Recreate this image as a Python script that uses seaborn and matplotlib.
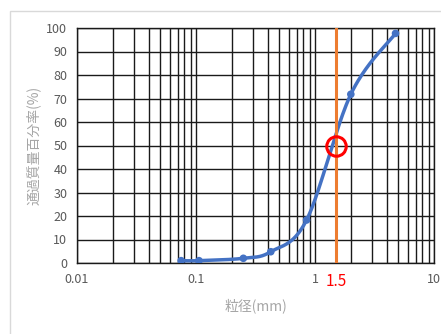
import numpy as np
import matplotlib
matplotlib.use("Agg")
import matplotlib.pyplot as plt
from matplotlib.patches import Rectangle
from matplotlib.ticker import FixedLocator, LogLocator, NullFormatter
import seaborn as sns
import pandas as pd

# Sieve data (particle size in mm vs passing percentage)
grain_size = [0.075, 0.106, 0.25, 0.425, 0.85, 2.0, 4.75]
passing = [1.0, 1.0, 2.0, 4.8, 18.3, 71.8, 97.7]

# Highlighted point
d_mark = 1.5
p_mark = 50

x_ticks = [0.01, 0.1, 1, d_mark, 10]
x_tick_labels = ["0.01", "0.1", "1", "1.5", "10"]
y_ticks = list(range(0, 101, 10))

sns.set_theme(style="white")
plt.rcParams["font.family"] = ["Noto Sans CJK JP", "DejaVu Sans"]

df = pd.DataFrame({"size": grain_size, "passing": passing})


def smooth_curve(x, y, n=40):
    """Catmull-Rom smoothing in log-x space (Excel-like smoothed line)"""
    lx = np.log10(x)
    pts = np.column_stack([lx, y])
    pts = np.vstack([pts[0], pts, pts[-1]])
    out = []
    for i in range(1, len(pts) - 2):
        p0, p1, p2, p3 = pts[i - 1], pts[i], pts[i + 1], pts[i + 2]
        t = np.linspace(0, 1, n)[:, None]
        seg = 0.5 * ((2 * p1) + (-p0 + p2) * t
                     + (2 * p0 - 5 * p1 + 4 * p2 - p3) * t ** 2
                     + (-p0 + 3 * p1 - 3 * p2 + p3) * t ** 3)
        out.append(seg)
    out = np.vstack(out)
    return 10 ** out[:, 0], out[:, 1]


fig = plt.figure(figsize=(4.41, 3.34), dpi=100)
fig.patches.append(Rectangle((10 / 441, -0.1), 1.2, 1 - 11 / 334 + 0.1,
                             transform=fig.transFigure, fill=False,
                             edgecolor="#d9d9d9", linewidth=1))
ax = fig.add_axes([77 / 441, 1 - 263 / 334, 357 / 441, 235 / 334])

ax.set_xscale("log")
ax.set_xlim(0.01, 10)
ax.set_ylim(0, 100)

# Grid
ax.xaxis.set_major_locator(FixedLocator(x_ticks))
ax.xaxis.set_minor_locator(LogLocator(base=10, subs=np.arange(2, 10)))
ax.xaxis.set_minor_formatter(NullFormatter())
ax.set_xticklabels(x_tick_labels)
ax.set_yticks(y_ticks)
ax.grid(which="major", axis="both", color="#1a1a1a", linewidth=1)
ax.grid(which="minor", axis="x", color="#1a1a1a", linewidth=1)
ax.set_axisbelow(True)
for s in ax.spines.values():
    s.set_color("#1a1a1a")
    s.set_linewidth(1)

# Curve
sx, sy = smooth_curve(grain_size, passing)
ax.plot(sx, sy, color="#4472c4", linewidth=2.5, zorder=3)
sns.scatterplot(data=df, x="size", y="passing", ax=ax, color="#4472c4",
                s=30, edgecolor="none", zorder=4, legend=False)

ax.axvline(d_mark, color="#ed7d31", linewidth=2.2, zorder=3)
ax.plot([d_mark], [p_mark], marker="o", markersize=14, markerfacecolor="none",
        markeredgecolor="red", markeredgewidth=2.2, zorder=5)

ax.tick_params(axis="both", which="both", length=0, labelsize=9,
               labelcolor="#595959", pad=7)
for lab in ax.get_xticklabels():
    if lab.get_text() == "1.5":
        lab.set_color("red")
        lab.set_fontsize(11)

ax.set_xlabel("粒径(mm)", color="#a6a6a6", fontsize=10, labelpad=6)
ax.set_ylabel("通過質量百分率(%)", color="#a6a6a6", fontsize=10, labelpad=4)

plt.savefig("out.png", dpi=100)
plt.close()
